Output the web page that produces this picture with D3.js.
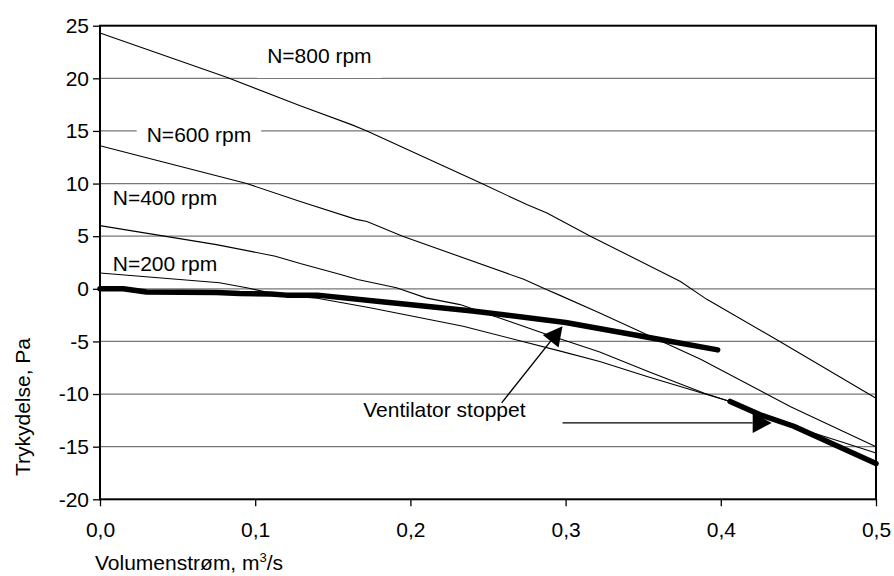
<!DOCTYPE html>
<html>
<head>
<meta charset="utf-8">
<script src="https://cdn.jsdelivr.net/npm/d3@7"></script>
<style>
  html, body { margin: 0; padding: 0; background: #fff; }
  svg { display: block; font-family: "Liberation Sans", Arial, sans-serif; }
</style>
</head>
<body>
<svg id="chart" width="894" height="576"></svg>
<script>
// ---- data (volume flow m3/s, pressure Pa) ----
const xTicks = [0, 0.1, 0.2, 0.3, 0.4, 0.5];
const yTicks = [-20, -15, -10, -5, 0, 5, 10, 15, 20, 25];

const n800 = [[0,24.3],[0.0816,20.1],[0.129,17.4],[0.162,15.6],[0.172,15.0],[0.246,10.0],[0.275,8.0],[0.288,7.2],[0.316,5.0],[0.374,0.7],[0.391,-1.0],[0.438,-5.0],[0.5,-10.4]];
const n600 = [[0,13.6],[0.0945,10.0],[0.129,8.3],[0.165,6.6],[0.172,6.4],[0.195,5.0],[0.273,0.9],[0.288,-0.1],[0.296,-0.6],[0.322,-2.3],[0.387,-6.7],[0.445,-11.2],[0.5,-15.0]];
const n400 = [[0,6.0],[0.075,4.2],[0.113,3.1],[0.129,2.4],[0.155,1.36],[0.166,0.88],[0.191,0.1],[0.21,-0.86],[0.232,-1.5],[0.264,-3.1],[0.288,-4.35],[0.322,-6.0],[0.354,-7.9],[0.389,-9.9],[0.406,-10.7],[0.425,-12.0],[0.447,-13.1],[0.479,-14.6],[0.5,-15.6]];
const n200 = [[0,1.5],[0.077,0.57],[0.0945,0.1],[0.116,-0.6],[0.14,-0.9],[0.174,-1.8],[0.234,-3.55],[0.296,-5.9],[0.322,-6.9],[0.354,-8.4],[0.406,-10.7],[0.425,-12.0],[0.447,-13.1],[0.47,-14.6],[0.5,-16.6]];
const stoppedA = [[0,0],[0.015,0],[0.03,-0.3],[0.075,-0.35],[0.09,-0.45],[0.11,-0.5],[0.12,-0.6],[0.14,-0.6],[0.18,-1.2],[0.24,-2.1],[0.30,-3.2],[0.36,-4.8],[0.398,-5.8]];
const stoppedB = [[0.406,-10.7],[0.425,-11.95],[0.447,-13.06],[0.5,-16.6]];

const curveLabels = ["N=800 rpm", "N=600 rpm", "N=400 rpm", "N=200 rpm"];
const curveLabelPos = [[0.1077,21.5],[0.0301,13.98],[0.0082,7.92],[0.0082,1.67]];
const annotationText = "Ventilator stoppet";
const annotationPos = [0.1696,-12.21];
const arrows = [ {from:[0.2588,-10.84], to:[0.298,-3.56]}, {from:[0.298,-12.74], to:[0.4328,-12.74]} ];

// ---- layout ----
const svg = d3.select("#chart");
const L = 100, R = 876, T = 25.7, B = 499.3;
const x = d3.scaleLinear().domain([0, 0.5]).range([L, R]);
const y = d3.scaleLinear().domain([-20, 25]).range([B, T]);
const fs = 21;

// grid lines
svg.append("g").selectAll("line").data(yTicks.filter(v => v > -20 && v < 25)).join("line")
  .attr("x1", L).attr("x2", R).attr("y1", d => y(d)).attr("y2", d => y(d))
  .attr("stroke", "#777").attr("stroke-width", 1.3);

// label backgrounds (cover gridlines)
const labelBoxes = svg.append("g");
const labelG = svg.append("g");
curveLabels.forEach((t, i) => {
  const tx = labelG.append("text")
    .attr("x", x(curveLabelPos[i][0])).attr("y", y(curveLabelPos[i][1]))
    .attr("font-size", fs).attr("fill", "#000").text(t);
  if (i < 2) {
    const bb = tx.node().getBBox();
    const pad = 10;
    labelBoxes.append("rect")
      .attr("x", bb.x - pad).attr("y", bb.y - 2)
      .attr("width", bb.width + 2 * pad)
      .attr("height", i === 0 ? (y(20) - 0.3 - (bb.y - 2)) : bb.height + 4)
      .attr("fill", "#fff");
  }
});

// axes frame
const yAxis = d3.axisLeft(y).tickValues(yTicks).tickSize(7).tickFormat(d => String(d));
const gy = svg.append("g").attr("transform", `translate(${L},0)`).call(yAxis);
gy.select(".domain").remove();
gy.selectAll("line").attr("stroke", "#000").attr("stroke-width", 1.3);
gy.selectAll("text").attr("font-size", fs).attr("fill", "#000")
  .attr("font-family", "Liberation Sans, Arial, sans-serif").attr("x", -11);

const xAxis = d3.axisBottom(x).tickValues(xTicks).tickSize(7)
  .tickFormat(d => d3.format(".1f")(d).replace(".", ","));
const gx = svg.append("g").attr("transform", `translate(0,${B})`).call(xAxis);
gx.select(".domain").remove();
gx.selectAll("line").attr("stroke", "#000").attr("stroke-width", 1.3);
gx.selectAll("text").attr("font-size", fs).attr("fill", "#000")
  .attr("font-family", "Liberation Sans, Arial, sans-serif").attr("dy", null).attr("y", 38);

svg.append("rect").attr("x", L).attr("y", T).attr("width", R - L).attr("height", B - T)
  .attr("fill", "none").attr("stroke", "#000").attr("stroke-width", 2);

// curves
const line = d3.line().x(d => x(d[0])).y(d => y(d[1]));
const plot = svg.append("g");
[n800, n600, n400, n200].forEach(s => {
  plot.append("path").datum(s).attr("d", line)
    .attr("fill", "none").attr("stroke", "#000").attr("stroke-width", 1.1);
});
[stoppedA, stoppedB].forEach(s => {
  plot.append("path").datum(s).attr("d", line)
    .attr("fill", "none").attr("stroke", "#000").attr("stroke-width", 5.5)
    .attr("stroke-linecap", "round").attr("stroke-linejoin", "round");
});

// annotation
svg.append("text").attr("x", x(annotationPos[0])).attr("y", y(annotationPos[1]))
  .attr("font-size", fs).attr("fill", "#000").text(annotationText);

arrows.forEach(a => {
  const x1 = x(a.from[0]), y1 = y(a.from[1]), x2 = x(a.to[0]), y2 = y(a.to[1]);
  const dx = x2 - x1, dy = y2 - y1, len = Math.hypot(dx, dy);
  const ux = dx / len, uy = dy / len;
  const hl = 19, hw = 10;
  const bx = x2 - ux * hl, by = y2 - uy * hl;
  svg.append("line").attr("x1", x1).attr("y1", y1).attr("x2", bx).attr("y2", by)
    .attr("stroke", "#000").attr("stroke-width", 1.4);
  svg.append("polygon")
    .attr("points", [[x2, y2], [bx - uy * hw, by + ux * hw], [bx + uy * hw, by - ux * hw]].map(p => p.join(",")).join(" "))
    .attr("fill", "#000");
});

// axis titles
const xt = svg.append("text").attr("x", 95).attr("y", 570).attr("font-size", fs).attr("fill", "#000");
xt.append("tspan").text("Volumenstrøm, m");
xt.append("tspan").attr("font-size", 13).attr("dy", -8).text("3");
xt.append("tspan").attr("dy", 8).text("/s");

svg.append("text").attr("transform", "translate(30,407) rotate(-90)")
  .attr("text-anchor", "middle").attr("font-size", fs).attr("fill", "#000")
  .text("Trykydelse, Pa");
</script>
</body>
</html>
